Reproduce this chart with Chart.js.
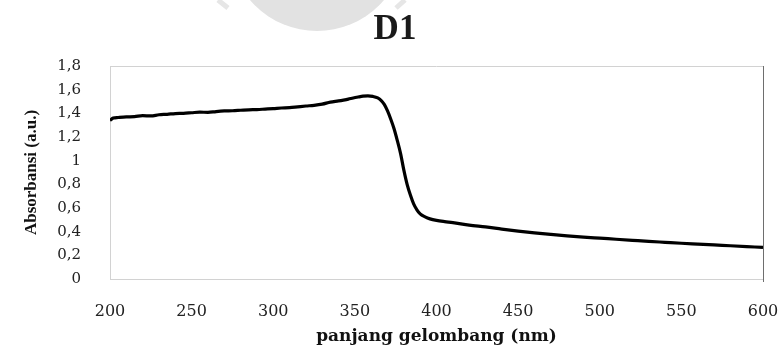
<!DOCTYPE html>
<html>
<head>
<meta charset="utf-8">
<title>D1</title>
<script src="https://cdn.jsdelivr.net/npm/chart.js@4.4.1/dist/chart.umd.min.js"></script>
<style>
  html, body { margin: 0; padding: 0; background: #fff; }
  #wrap { width: 784px; height: 349px; position: relative; }
</style>
</head>
<body>
<div id="wrap"><canvas id="chart"></canvas></div>
<script>
// ---------------------------------------------------------------------------
// Data
// ---------------------------------------------------------------------------
const TITLE = 'D1';
const X_LABEL = 'panjang gelombang (nm)';
const Y_LABEL = 'Absorbansi (a.u.)';

const wavelengths = [
  200, 202, 205, 210, 215, 220, 225, 230, 235, 240, 245, 250, 255, 260, 265,
  270, 275, 280, 285, 290, 295, 300, 305, 310, 315, 320, 325, 330, 335, 340,
  343, 346, 349, 352, 355, 358, 361, 364, 366, 368, 370, 372, 374, 376, 378,
  380, 382, 384, 386, 388, 390, 393, 396, 400, 405, 410, 420, 430, 440, 450,
  460, 470, 480, 490, 500, 510, 520, 530, 540, 550, 560, 570, 580, 590, 600
];
const absorbance = [
  1.340, 1.360, 1.365, 1.370, 1.372, 1.380, 1.378, 1.388, 1.392, 1.398, 1.400, 1.405, 1.410, 1.408, 1.415,
  1.420, 1.422, 1.426, 1.430, 1.432, 1.436, 1.440, 1.445, 1.448, 1.455, 1.462, 1.468, 1.478, 1.495, 1.505,
  1.512, 1.520, 1.530, 1.538, 1.545, 1.548, 1.543, 1.530, 1.510, 1.475, 1.420, 1.350, 1.270, 1.170, 1.060,
  0.920, 0.800, 0.710, 0.635, 0.585, 0.550, 0.525, 0.508, 0.495, 0.485, 0.477, 0.455, 0.440, 0.422, 0.405,
  0.390, 0.377, 0.365, 0.354, 0.345, 0.336, 0.327, 0.318, 0.310, 0.302, 0.295, 0.288, 0.281, 0.274, 0.267
];

const X_MIN = 200, X_MAX = 600, X_STEP = 50;
const Y_MIN = 0, Y_MAX = 1.8, Y_STEP = 0.2;

// ---------------------------------------------------------------------------
// Helpers
// ---------------------------------------------------------------------------
const formatComma = (v) => String(Number(v.toFixed(1))).replace('.', ',');

// frame (top/right edges), faint watermark and the big title
const decorPlugin = {
  id: 'decor',
  beforeDraw(chart) {
    const ctx = chart.ctx;
    ctx.save();
    ctx.fillStyle = '#e2e2e2';
    ctx.beginPath();
    ctx.arc(317, -57, 88, 0, Math.PI * 2);
    ctx.fill();
    ctx.strokeStyle = '#e6e6e6';
    ctx.lineWidth = 5;
    ctx.beginPath();
    ctx.moveTo(218, 0); ctx.lineTo(228, 8);
    ctx.moveTo(405, 0); ctx.lineTo(396, 8);
    ctx.stroke();
    ctx.restore();
  },
  afterDraw(chart) {
    const {ctx, chartArea: a} = chart;
    ctx.save();
    ctx.lineWidth = 1;
    ctx.strokeStyle = '#d2d2d2';
    ctx.beginPath();
    ctx.moveTo(a.left, a.top + 0.5);
    ctx.lineTo(a.right, a.top + 0.5);
    ctx.stroke();
    ctx.strokeStyle = '#6e6e6e';
    ctx.beginPath();
    ctx.moveTo(a.right + 0.5, a.top);
    ctx.lineTo(a.right + 0.5, a.bottom + 3);
    ctx.stroke();

    ctx.fillStyle = '#1a1a1a';
    ctx.font = 'bold 35px "Liberation Serif", serif';
    ctx.textAlign = 'center';
    ctx.textBaseline = 'alphabetic';
    ctx.fillText(TITLE, 395, 39);
    ctx.restore();
  }
};

// ---------------------------------------------------------------------------
// Chart
// ---------------------------------------------------------------------------
const points = wavelengths.map((x, i) => ({x, y: absorbance[i]}));

new Chart(document.getElementById('chart'), {
  type: 'scatter',
  data: {
    datasets: [{
      data: points,
      showLine: true,
      borderColor: '#000',
      borderWidth: 3.2,
      pointRadius: 0,
      cubicInterpolationMode: 'monotone',
      fill: false
    }]
  },
  options: {
    responsive: true,
    maintainAspectRatio: false,
    animation: false,
    layout: { padding: { left: 0, right: 21, top: 66, bottom: 0 } },
    plugins: {
      legend: { display: false },
      tooltip: { enabled: false },
      title: { display: false }
    },
    scales: {
      x: {
        type: 'linear',
        min: X_MIN,
        max: X_MAX,
        grid: { display: false },
        border: { display: true, color: '#d2d2d2', width: 1 },
        ticks: {
          stepSize: X_STEP,
          padding: 15,
          color: '#222',
          font: { family: '"DejaVu Serif", serif', size: 16 }
        },
        title: {
          display: true,
          text: X_LABEL,
          color: '#111',
          padding: { top: 0, bottom: 2 },
          font: { family: '"DejaVu Serif", serif', size: 17, weight: 'bold' }
        },
        afterFit(scale) {
          scale.height = 70;
          // the last tick label may hang into the right padding
          scale.paddingRight = 0;
          scale.paddingLeft = 0;
        }
      },
      y: {
        min: Y_MIN,
        max: Y_MAX,
        grid: { display: false },
        border: { display: true, color: '#d2d2d2', width: 1 },
        ticks: {
          stepSize: Y_STEP,
          padding: 21,
          color: '#222',
          font: { family: '"DejaVu Serif", serif', size: 15 },
          callback: (v) => formatComma(v)
        },
        title: {
          display: true,
          text: Y_LABEL,
          color: '#111',
          padding: { top: 21, bottom: 0 },
          font: { family: '"Liberation Serif", serif', size: 17, weight: 'bold' }
        },
        afterFit(scale) { scale.width = 110; }
      }
    }
  },
  plugins: [decorPlugin]
});
</script>
</body>
</html>
